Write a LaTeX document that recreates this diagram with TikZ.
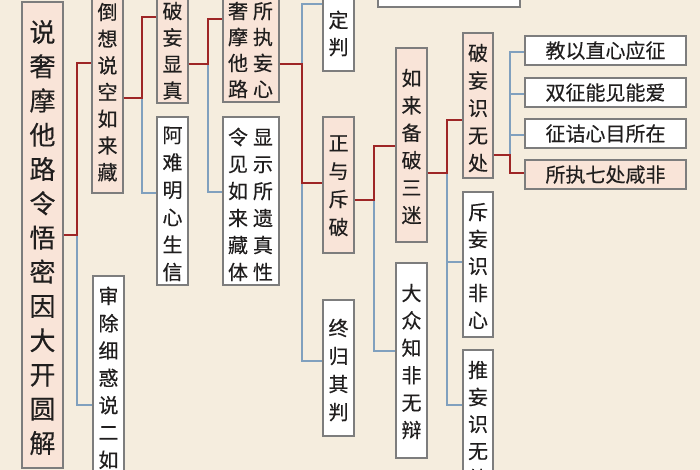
\documentclass[tikz,border=0pt]{standalone}
\usepackage{fontspec}
\newfontfamily\cjk[FakeBold=0.3]{Noto Sans CJK SC}
\definecolor{bgc}{RGB}{245,237,222}
\definecolor{pinkf}{RGB}{249,228,216}
\definecolor{bord}{RGB}{125,125,125}
\definecolor{redl}{RGB}{158,38,38}
\definecolor{bluel}{RGB}{128,160,190}
\definecolor{ink}{RGB}{32,30,30}
\tikzset{
 boxw/.style={draw=bord, line width=1.4pt, fill=white, inner sep=0pt, rectangle},
 boxp/.style={boxw, fill=pinkf},
 chr/.style={inner sep=0pt, text=ink, font=\cjk\fontsize{20}{20}\selectfont, text height=16.6pt, text depth=1.4pt},
 chrbig/.style={inner sep=0pt, text=ink, font=\cjk\fontsize{26}{26}\selectfont, text height=21.6pt, text depth=1.8pt},
 rl/.style={draw=redl, line width=2pt},
 bl/.style={draw=bluel, line width=2pt},
}
\newcommand\mkbox[6]{\node[#6, minimum width={(#4-#2)*1pt}, minimum height={(#5-#3)*1pt}] (#1) at ({(#2+#4)/2},{-(#3+#5)/2}) {};}
\newcommand\vchars[5][chr]{\foreach \ch [count=\i from 0] in {#5} {\node[#1] at (#2,{-(#3+\i*#4)}) {\ch};}}
\begin{document}
\begin{tikzpicture}[x=1pt,y=1pt]
\fill[bgc] (0,0) rectangle (700,-470);
\useasboundingbox (0,0) rectangle (700,-470);
\clip (0,0) rectangle (700,-470);
% boxes
\mkbox{main}{22}{2}{63}{468}{boxp}
\mkbox{b2}{92}{-5}{123}{193}{boxp}
\mkbox{b3}{93}{276}{124}{490}{boxw}
\mkbox{b4}{157}{-5}{188}{103}{boxp}
\mkbox{b5}{157}{117}{188}{285}{boxw}
\mkbox{b6}{223}{-5}{279}{102}{boxp}
\mkbox{b7}{223}{117}{279}{285}{boxw}
\mkbox{b8}{323}{-5}{354}{71}{boxw}
\mkbox{b9}{323}{117}{354}{253}{boxp}
\mkbox{b10}{323}{300}{354}{436}{boxw}
\mkbox{b11}{396}{48}{427}{242}{boxp}
\mkbox{b12}{396}{263}{427}{458}{boxw}
\mkbox{b13}{378}{-10}{520}{7}{boxw}
\mkbox{b14}{463}{33}{493}{178}{boxp}
\mkbox{b15}{463}{192}{493}{337}{boxw}
\mkbox{b16}{463}{350}{493}{490}{boxw}
\mkbox{h1}{525}{36}{686}{65}{boxw}
\mkbox{h2}{525}{78}{686}{107}{boxw}
\mkbox{h3}{525}{119}{686}{148}{boxw}
\mkbox{h4}{525}{160}{686}{189}{boxp}
% connectors (blue first)
\draw[bl] (77,-235) |- (b3.west |- 0,-405);
\draw[bl] (142,-98) |- (b5.west |- 0,-193);
\draw[bl] (208,-64) |- (b7.west |- 0,-192);
\draw[bl] (302,-64) |- (b8.west |- 0,-4);
\draw[bl] (302,-183) |- (b10.west |- 0,-361);
\draw[bl] (374,-200) |- (b12.west |- 0,-351);
\draw[bl] (447,-173) |- (b16.west |- 0,-405);
\draw[bl] (447,-262) -- (b15.west |- 0,-262);
\draw[bl] (510,-155) |- (h1.west |- 0,-52);
\draw[bl] (510,-94) -- (h2.west |- 0,-94);
\draw[bl] (510,-135) -- (h3.west |- 0,-135);
\draw[rl] (main.east |- 0,-235) -- (77,-235) |- (b2.west |- 0,-63);
\draw[rl] (b2.east |- 0,-98) -- (142,-98) |- (b4.west |- 0,-17);
\draw[rl] (b4.east |- 0,-64) -- (208,-64) |- (b6.west |- 0,-19);
\draw[rl] (b6.east |- 0,-64) -- (302,-64) |- (b9.west |- 0,-183);
\draw[rl] (b9.east |- 0,-200) -- (374,-200) |- (b11.west |- 0,-146);
\draw[rl] (b11.east |- 0,-173) -- (447,-173) |- (b14.west |- 0,-120);
\draw[rl] (b14.east |- 0,-155) -- (510,-155) |- (h4.west |- 0,-173);
% texts
\vchars[chrbig]{42.5}{32}{34.25}{说,奢,摩,他,路,令,悟,密,因,大,开,圆,解}
\vchars{107.5}{12}{26.7}{倒,想,说,空,如,来,藏}
\vchars{108.5}{296}{27.3}{审,除,细,惑,说,二,如}
\vchars{172.5}{11}{26.5}{破,妄,显,真}
\vchars{172.5}{135}{27.4}{阿,难,明,心,生,信}
\vchars{238}{11}{26}{奢,摩,他,路}
\vchars{263}{11}{26}{所,执,妄,心}
\vchars{238}{137}{27}{令,见,如,来,藏,体}
\vchars{263}{137}{27}{显,示,所,遗,真,性}
\vchars{338.5}{20}{27}{定,判}
\vchars{338.5}{143}{28}{正,与,斥,破}
\vchars{338.5}{328}{28}{终,归,其,判}
\vchars{411.5}{78}{27.4}{如,来,备,破,三,迷}
\vchars{411.5}{293}{27.4}{大,众,知,非,无,辩}
\vchars{478}{53}{27.5}{破,妄,识,无,处}
\vchars{478}{212}{27}{斥,妄,识,非,心}
\vchars{478}{370}{27}{推,妄,识,无,处}
\node[chr] at (h1.center) {教以直心应征};
\node[chr] at (h2.center) {双征能见能爱};
\node[chr] at (h3.center) {征诘心目所在};
\node[chr] at (h4.center) {所执七处咸非};
\end{tikzpicture}
\end{document}
